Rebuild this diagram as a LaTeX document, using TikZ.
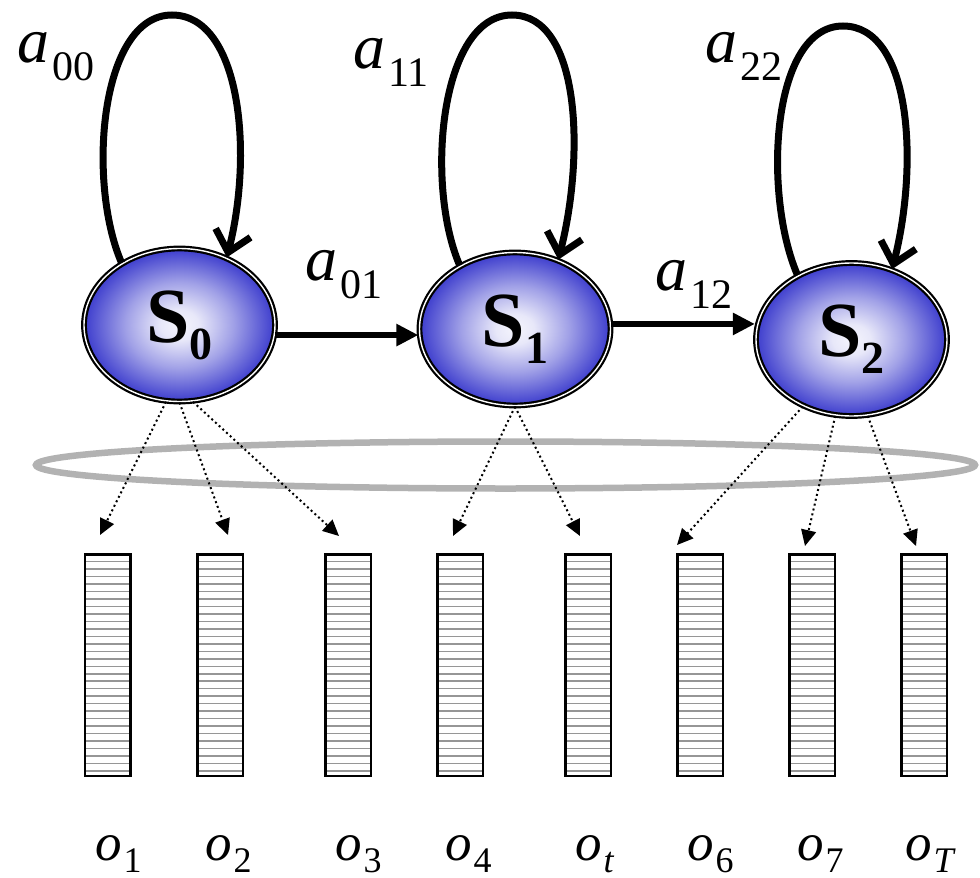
\documentclass[tikz,border=0pt]{standalone}
\usepackage{fontspec}
\setmainfont{Liberation Serif}
\usetikzlibrary{shapes.geometric, arrows.meta}

\definecolor{stateblue}{RGB}{60,60,205}
\definecolor{ringgray}{RGB}{178,178,178}
\definecolor{hatchgray}{RGB}{150,150,150}
\pgfdeclareradialshading{stateshade}{\pgfpoint{0bp}{0bp}}{color(0bp)=(white!95!stateblue); color(5bp)=(white!88!stateblue); color(14bp)=(white!52!stateblue); color(25bp)=(stateblue); color(50bp)=(stateblue)}

\newcommand{\slbl}[1]{\textbf{S}\raisebox{-17pt}{\fontsize{46}{46}\selectfont\bfseries #1}}
\newcommand{\albl}[1]{\textit{a}\hspace{3pt}\raisebox{-18pt}{\fontsize{42}{42}\selectfont #1}}
\newcommand{\olbl}[1]{\textit{o}\hspace{2pt}\raisebox{-12pt}{\fontsize{36}{36}\selectfont #1}}

\begin{document}
\begin{tikzpicture}[x=1pt, y=-1pt,
    state/.style={ellipse, shade, shading=stateshade, draw=black, line width=2.2pt, double=white, double distance=1.4pt, minimum width=191pt, minimum height=153pt, inner sep=0pt, font=\fontsize{78}{80}\selectfont},
    obsbar/.style={draw=black, line width=2.5pt, minimum width=45.5pt, minimum height=221.5pt, inner sep=0pt,
        path picture={\foreach \k in {1,...,29} \draw[hatchgray, line width=1.5pt] ([yshift=-\k*7.47pt]path picture bounding box.north west) -- ([yshift=-\k*7.47pt]path picture bounding box.north east);}},
    ring/.style={ellipse, draw=ringgray, line width=6.5pt, minimum width=939pt, minimum height=47pt, inner sep=0pt},
    trans/.style={line width=5.5pt, -{Triangle[length=22pt,width=21pt]}},
    selfloop/.style={line width=7pt, -{Straight Barb[length=20pt,width=36pt]}},
    emit/.style={line width=2pt, dash pattern=on 2pt off 3pt, -{Triangle[length=16pt,width=15pt]}},
    tlabel/.style={inner sep=0pt, anchor=base west, font=\fontsize{64}{66}\selectfont},
    olabel/.style={inner sep=0pt, anchor=base west, font=\fontsize{53}{55}\selectfont}]

    \useasboundingbox (0,0) rectangle (980,878);

    % the grouping ring goes first, below everything
    \node[ring] (grp) at (505.5,465) {};

    \node[state] (s0) at (179.5,325) {\slbl{0}};
    \node[state] (s1) at (515,329) {\slbl{1}};
    \node[state] (s2) at (851.5,339.5) {\slbl{2}};

    \coordinate (t0) at (172,15);
    \coordinate (t1) at (512,15);
    \coordinate (t2) at (843,26);

    \draw[selfloop] (s0.133) .. controls +(-35,-81) and +(-72,0) .. (t0) .. controls +(68,0) and +(27,-106) .. (s0.55);
    \draw[selfloop] (s1.131) .. controls +(-35,-81) and +(-72,0) .. (t1) .. controls +(68,0) and +(27,-106) .. (s1.58);
    \draw[selfloop] (s2.130) .. controls +(-35,-81) and +(-72,0) .. (t2) .. controls +(68,0) and +(27,-106) .. (s2.60);

    \draw[trans] (s0.-6) -- (s0.-6 -| s1.west);
    \draw[trans] (s1.3) -- (s1.3 -| s2.west);

    \node[tlabel] (l00) at (17,62) {\albl{00}};
    \node[tlabel] (l11) at (353,68) {\albl{11}};
    \node[tlabel] (l22) at (705,62) {\albl{22}};
    \node[tlabel] (l01) at (305,280) {\albl{01}};
    \node[tlabel] (l12) at (655,290) {\albl{12}};

    \node[obsbar] (o1) at (107.5,665) {};
    \node[obsbar] (o2) at (220,665) {};
    \node[obsbar] (o3) at (348,665) {};
    \node[obsbar] (o4) at (460,665) {};
    \node[obsbar] (o5) at (588,665) {};
    \node[obsbar] (o6) at (700,665) {};
    \node[obsbar] (o7) at (812,665) {};
    \node[obsbar] (o8) at (924,665) {};

    % arrow tips stop short of the bars
    \coordinate (e1) at (100,535);
    \coordinate (e2) at (228,535);
    \coordinate (e3) at (339,536);
    \coordinate (e4) at (453,536);
    \coordinate (e5) at (580,536);
    \coordinate (e6) at (677,545);
    \coordinate (e7) at (805,546);
    \coordinate (e8) at (916,546);

    \draw[emit] (s0.-100) -- (e1);
    \draw[emit] (s0.-90) -- (e2);
    \draw[emit] (s0.-80) -- (e3);
    \draw[emit] (s1.south) -- (e4);
    \draw[emit] (s1.south) -- (e5);
    \draw[emit] (s2.-126) -- (e6);
    \draw[emit] (s2.-102) -- (e7);
    \draw[emit] (s2.-78) -- (e8);

    \node[olabel] (n1) at (95,860) {\olbl{1}};
    \node[olabel] (n2) at (205,860) {\olbl{2}};
    \node[olabel] (n3) at (335,860) {\olbl{3}};
    \node[olabel] (n4) at (445,860) {\olbl{4}};
    \node[olabel] (n5) at (575,860) {\olbl{\textit{t}}};
    \node[olabel] (n6) at (687,860) {\olbl{6}};
    \node[olabel] (n7) at (797,860) {\olbl{7}};
    \node[olabel] (n8) at (905,860) {\olbl{\textit{T}}};
\end{tikzpicture}
\end{document}
